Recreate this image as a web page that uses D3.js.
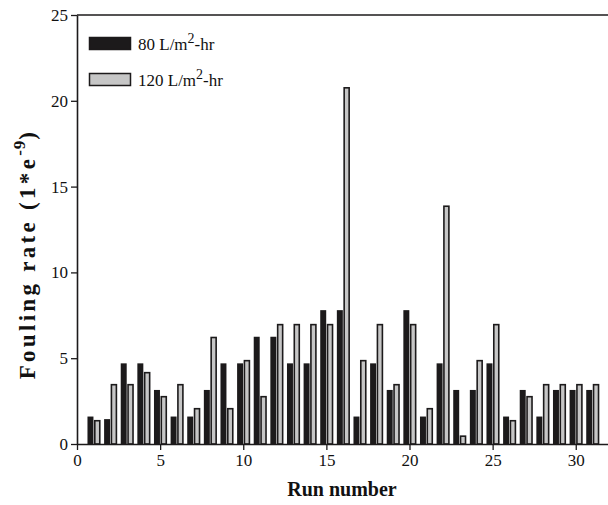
<!DOCTYPE html>
<html>
<head>
<meta charset="utf-8">
<script src="https://cdn.jsdelivr.net/npm/d3@7"></script>
<style>
  html, body { margin: 0; padding: 0; background: #fff; }
  svg { display: block; }
  text { font-family: "Liberation Serif", "Times New Roman", serif; fill: #111; }
</style>
</head>
<body>
<svg id="chart" width="608" height="505"></svg>
<script>
// Run numbers and fouling rates (×1e-9) for the two flux levels
const runs = d3.range(1, 32);
const flux80 = [1.6, 1.45, 4.7, 4.7, 3.15, 1.6, 1.6, 3.15, 4.7, 4.7,
                6.25, 6.25, 4.7, 4.7, 7.8, 7.8, 1.6, 4.7, 3.15, 7.8,
                1.6, 4.7, 3.15, 3.15, 4.7, 1.6, 3.15, 1.6, 3.15, 3.15, 3.15];
const flux120 = [1.4, 3.5, 3.5, 4.2, 2.8, 3.5, 2.1, 6.25, 2.1, 4.9,
                 2.8, 7.0, 7.0, 7.0, 7.0, 20.8, 4.9, 7.0, 3.5, 7.0,
                 2.1, 13.9, 0.5, 4.9, 7.0, 1.4, 2.8, 3.5, 3.5, 3.5, 3.5];
const xTicks = [0, 5, 10, 15, 20, 25, 30];
const yTicks = [0, 5, 10, 15, 20, 25];

const svg = d3.select("#chart");
const x = d3.scaleLinear().domain([0, 32]).range([77, 609]);
const y = d3.scaleLinear().domain([0, 25]).range([444, 15]);

// bars: dark bar sits just left of each run number, light bar just right
const g = svg.append("g");
g.selectAll("rect.b80").data(runs).join("rect")
  .attr("class", "b80")
  .attr("x", d => x(d - 0.37))
  .attr("width", x(0.36) - x(0))
  .attr("y", (d, i) => y(flux80[i]))
  .attr("height", (d, i) => y(0) - y(flux80[i]))
  .attr("fill", "#1c1a1b");

g.selectAll("rect.b120").data(runs).join("rect")
  .attr("class", "b120")
  .attr("x", d => x(d + 0.07))
  .attr("width", x(0.3) - x(0))
  .attr("y", (d, i) => y(flux120[i]) + 0.75)
  .attr("height", (d, i) => y(0) - y(flux120[i]) - 0.75)
  .attr("fill", "#c6c6c6")
  .attr("stroke", "#1c1a1b")
  .attr("stroke-width", 1.6);

// axes
const xAxis = d3.axisBottom(x).tickValues(xTicks).tickSize(6).tickPadding(4).tickSizeOuter(0);
const yAxis = d3.axisLeft(y).tickValues(yTicks).tickSize(6).tickPadding(3).tickSizeOuter(0);

const gx = svg.append("g").attr("transform", `translate(0,${y(0)})`).call(xAxis);
const gy = svg.append("g").attr("transform", `translate(${x(0)},0)`).call(yAxis);
[gx, gy].forEach(a => {
  a.select(".domain").attr("stroke", "#1c1a1b").attr("stroke-width", 1.6);
  a.selectAll(".tick line").attr("stroke", "#1c1a1b").attr("stroke-width", 1.3);
  a.selectAll(".tick text").style("font-family", "'Liberation Serif', serif")
    .style("font-size", "17px").attr("fill", "#111");
});

// top frame line
svg.append("line")
  .attr("x1", x(0)).attr("x2", 608)
  .attr("y1", y(25)).attr("y2", y(25))
  .attr("stroke", "#1c1a1b").attr("stroke-width", 1.6);

// axis titles
svg.append("text")
  .attr("x", 342).attr("y", 496)
  .attr("text-anchor", "middle")
  .style("font-size", "20px").style("font-weight", "bold")
  .text("Run number");

const yt = svg.append("text")
  .attr("transform", "translate(35,254) rotate(-90)")
  .attr("text-anchor", "middle")
  .style("font-size", "23px").style("font-weight", "bold")
  .style("letter-spacing", "3.3px");
yt.append("tspan").text("Fouling rate (1*e");
yt.append("tspan").attr("dy", -10).style("font-size", "17px").style("letter-spacing", "1px").text("-9");
yt.append("tspan").attr("dy", 10).text(")");

// legend
const legendItems = [
  { label: "80 L/m", fill: "#1c1a1b", y: 37 },
  { label: "120 L/m", fill: "#c6c6c6", y: 73 }
];
legendItems.forEach(it => {
  svg.append("rect")
    .attr("x", 89.5).attr("y", it.y + 0.5)
    .attr("width", 41).attr("height", 12)
    .attr("fill", it.fill)
    .attr("stroke", "#1c1a1b").attr("stroke-width", 1.5);
  const t = svg.append("text")
    .attr("x", 138).attr("y", it.y + 13)
    .style("font-size", "17px");
  t.append("tspan").text(it.label);
  t.append("tspan").attr("dy", -7).style("font-size", "14px").text("2");
  t.append("tspan").attr("dy", 7).text("-hr");
});
</script>
</body>
</html>
